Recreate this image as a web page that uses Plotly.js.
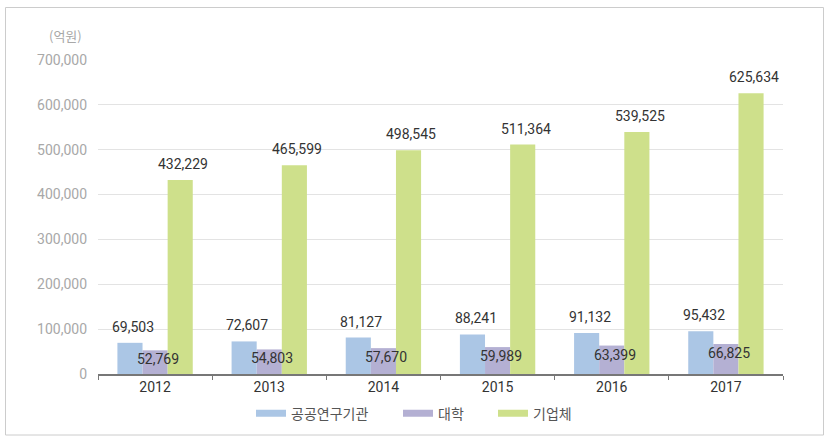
<!DOCTYPE html>
<html>
<head>
<meta charset="utf-8">
<script src="https://cdn.plot.ly/plotly-3.0.1.min.js"></script>
<style>
html,body{margin:0;padding:0;background:#fff;}
#chart{width:833px;height:442px;}
</style>
</head>
<body>
<div id="chart"></div>
<script>
const years = ["2012","2013","2014","2015","2016","2017"];
const seriesNames = ["공공연구기관","대학","기업체"];
const publicInst = [69503,72607,81127,88241,91132,95432];
const university = [52769,54803,57670,59989,63399,66825];
const company = [432229,465599,498545,511364,539525,625634];
const yTicks = [0,100000,200000,300000,400000,500000,600000,700000];
const unitLabel = "(억원)";

const colors = ["#abc6e5","#b4b0d3","#cee08b"];
const numFont = {family:"Liberation Sans Narrow, Roboto, Arial Narrow, sans-serif", size:14, color:"#333333"};
const fmt = v => v.toLocaleString("en-US");

const data = [publicInst, university, company].map((vals,i)=>({
  type:"bar", name:seriesNames[i], x:years, y:vals,
  marker:{color:colors[i]}, hoverinfo:"none", showlegend:false
}));
// legend swatches (wide, thin bars as in the reference), one legend box per series
const legendIds = ["legend","legend2","legend3"];
seriesNames.forEach((nm,i)=>{
  data.push({type:"scatter", mode:"lines", name:nm, x:[null], y:[null],
    line:{color:colors[i], width:7}, hoverinfo:"none", showlegend:true, legend:legendIds[i]});
});

const annotations = [];
years.forEach((yr,k)=>{
  annotations.push({x:k, y:publicInst[k], text:fmt(publicInst[k]), showarrow:false,
    xshift:-22, yanchor:"bottom", yshift:6, font:numFont});
  annotations.push({x:k, y:university[k], text:fmt(university[k]), showarrow:false,
    xshift:3, yanchor:"top", yshift:1, font:numFont});
  annotations.push({x:k, y:company[k], text:fmt(company[k]), showarrow:false,
    xshift:28, yanchor:"bottom", yshift:6, font:numFont});
});
annotations.push({xref:"paper", yref:"paper", x:-0.02, y:1.04, xanchor:"right", yanchor:"bottom",
  text:unitLabel, showarrow:false, font:{family:"Noto Sans CJK KR, sans-serif", size:13, color:"#a8a8a8"}});

const legendBase = (px) => ({orientation:"h", x:(px-98)/685, xanchor:"left", y:-0.075, yanchor:"top",
    font:{family:"Noto Sans CJK KR, sans-serif", size:14, color:"#555555"},
    itemwidth:30, itemclick:false, bgcolor:"rgba(0,0,0,0)"});

const layout = {
  width:833, height:442,
  margin:{l:98, r:50, t:60, b:68},
  paper_bgcolor:"#ffffff", plot_bgcolor:"#ffffff",
  barmode:"group", bargap:0.34, bargroupgap:0,
  showlegend:true,
  legend:legendBase(251),
  legend2:legendBase(398),
  legend3:legendBase(493),
  xaxis:{type:"category", range:[-0.5, years.length-0.5], autorange:false, automargin:false,
    showgrid:false, showline:true, linecolor:"#777777", linewidth:1.5,
    ticks:"outside", tickson:"boundaries", ticklen:4, tickcolor:"#777777",
    tickfont:{family:"Liberation Sans Narrow, Roboto, sans-serif", size:14, color:"#333333"},
    fixedrange:true},
  yaxis:{range:[0,700000], autorange:false, automargin:false, tickvals:yTicks, ticktext:yTicks.map(fmt),
    showgrid:true, gridcolor:"#e3e3e3", gridwidth:1, zeroline:false, showline:false,
    ticks:"", ticklabelstandoff:10,
    tickfont:{family:"Liberation Sans Narrow, Roboto, sans-serif", size:14, color:"#a8a8a8"},
    fixedrange:true},
  annotations:annotations,
  shapes:[{type:"rect", xref:"paper", yref:"paper",
    x0:(5.5-98)/685, x1:(823.5-98)/685, y0:(374-435)/314, y1:(374-7.5)/314,
    line:{color:"#cccccc", width:1}, fillcolor:"rgba(0,0,0,0)", layer:"below"}]
};

Plotly.newPlot("chart", data, layout, {displayModeBar:false, staticPlot:true});
</script>
</body>
</html>
